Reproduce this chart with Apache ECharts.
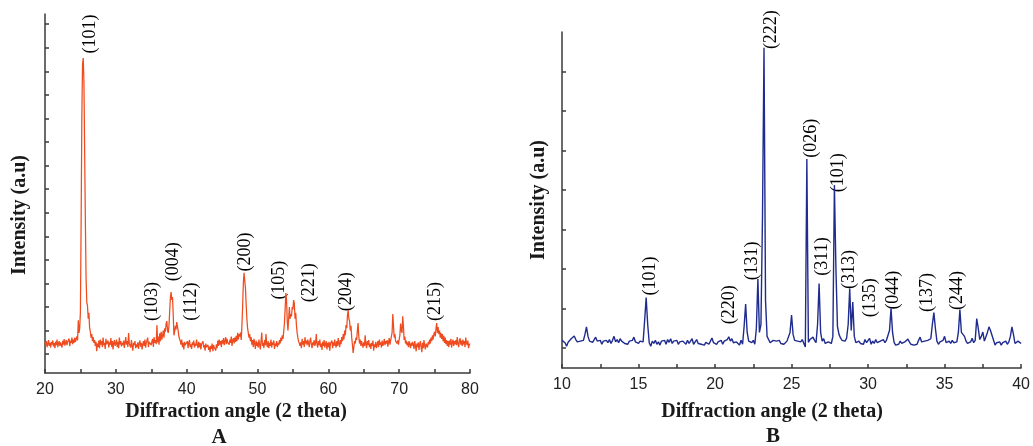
<!DOCTYPE html>
<html>
<head>
<meta charset="utf-8">
<script src="https://cdn.jsdelivr.net/npm/echarts@6/dist/echarts.min.js"></script>
<style>
  html, body { margin: 0; padding: 0; background: #fff; }
  #chart { width: 1033px; height: 446px; }
</style>
</head>
<body>
<div id="chart"></div>
<script>
// ---- Pattern A: anatase-type TiO2 scan, 20–80° at 0.1° steps ----
const angleStartA = 20;
const angleStepA = 0.1;
const intensityA = [
  50,38,55,30,44,60,35,48,28,52,
  40,58,33,47,25,53,38,62,30,45,
  55,35,50,42,28,57,40,64,36,48,
  60,38,52,45,66,34,58,48,70,42,
  62,48,70,52,60,75,58,144,90,110,
  180,560,1000,1230,1256,1150,850,560,320,220,
  205,150,175,110,95,70,85,55,72,48,
  60,35,52,12,45,30,58,25,62,40,
  55,30,70,38,48,22,65,42,35,58,
  28,50,40,68,32,55,20,48,60,35,
  45,62,30,52,25,70,42,55,33,48,
  38,58,26,50,72,40,55,30,90,45,
  52,28,60,35,15,48,38,55,25,42,
  30,50,22,45,58,32,48,20,40,55,
  35,62,28,48,40,70,30,52,44,60,
  38,55,65,30,72,48,60,42,123,50,
  75,40,88,55,95,62,80,100,70,110,
  95,130,140,100,90,120,180,240,263,230,
  242,170,80,95,120,105,136,128,100,75,
  80,55,40,62,30,48,20,52,38,45,
  35,55,25,48,60,30,42,22,50,38,
  58,28,45,35,62,40,25,52,30,48,
  20,42,35,55,28,38,15,45,30,25,
  40,18,32,8,35,22,45,12,38,28,
  30,15,42,25,58,35,62,40,55,30,
  60,45,68,38,55,72,42,65,50,58,
  40,62,48,75,35,58,68,45,70,52,
  78,55,90,62,85,75,92,60,120,200,
  300,345,340,280,210,150,110,90,70,85,
  55,72,40,60,30,65,45,22,58,35,
  50,28,62,40,20,55,92,35,48,25,
  60,38,85,42,30,55,25,48,35,62,
  28,50,40,58,22,45,35,55,30,48,
  38,60,45,70,55,80,65,95,130,190,
  259,230,140,100,150,200,150,170,160,200,
  190,229,215,150,175,120,90,70,55,60,
  35,50,25,65,40,55,30,72,45,58,
  38,62,48,30,55,70,42,25,50,38,
  60,35,48,85,40,28,55,38,62,30,
  45,18,52,35,60,28,42,55,20,48,
  30,52,15,45,38,58,25,50,35,62,
  40,28,55,35,68,45,30,60,42,72,
  55,85,62,100,80,123,110,165,187,150,
  140,100,120,70,40,5,30,55,45,70,
  60,100,132,75,45,62,35,55,40,28,
  50,35,80,42,25,55,38,60,30,45,
  22,48,35,58,15,42,30,52,25,40,
  55,30,62,40,50,28,58,35,45,65,
  38,55,45,60,32,52,68,40,58,75,
  90,170,120,70,85,55,62,45,58,40,
  62,80,130,100,90,161,120,60,75,45,
  58,38,50,30,55,42,25,48,35,52,
  40,22,55,35,12,45,30,50,18,42,
  55,30,8,48,25,60,35,20,45,38,
  28,52,40,62,45,70,55,80,62,85,
  95,75,110,132,90,115,85,100,70,90,
  65,85,55,78,48,70,42,60,35,55,
  30,58,40,65,28,50,62,35,55,42,
  60,38,72,45,30,55,68,40,58,35,
  62,42,55,30,70,48,38,58,25,40,
  45
];
const peakNamesA = ['(101)', '(103)', '(004)', '(112)', '(200)', '(105)', '(221)', '(204)', '(215)'];
const peakLabelAngleA = [26.36, 35.1, 38.15, 40.7, 48.3, 53.1, 57.35, 62.6, 75.15];
const peakLabelLevelA = [1358, 223, 392, 223, 433, 314, 303, 265, 223];
const xTickLabelsA = [20, 30, 40, 50, 60, 70, 80];
const yTicksA = [0, 100, 200, 300, 400, 500, 600, 700, 800, 900, 1000, 1100, 1200, 1300, 1400];

// ---- Pattern B: scan 10–40° at 0.1° steps ----
const angleStartB = 10;
const angleStepB = 0.1;
const intensityB = [
  20,18,14,5,15,20,24,28,31,22,
  16,12,18,15,20,35,54,30,18,22,
  15,20,28,18,14,20,10,18,15,20,
  14,22,12,20,30,16,22,14,24,18,
  22,12,16,10,18,14,20,28,16,20,
  12,18,22,16,70,128,60,14,5,18,
  12,20,10,16,8,18,14,20,10,22,
  15,24,12,18,14,20,10,16,12,18,
  14,10,20,12,18,24,10,16,22,12,
  16,10,14,8,15,12,10,18,26,14,
  12,10,16,12,20,10,18,14,22,29,
  18,24,14,10,16,12,8,20,10,55,
  112,40,18,22,14,20,10,50,175,40,
  60,330,760,120,30,22,14,18,20,15,
  18,14,20,12,16,10,14,18,20,40,
  84,35,20,24,18,20,16,22,20,3,
  479,15,22,18,28,20,14,60,164,40,
  18,24,12,8,16,20,12,30,413,200,
  55,35,26,20,24,18,26,60,151,45,
  117,30,14,10,18,12,16,10,22,14,
  12,25,10,18,12,22,14,10,18,16,
  22,14,20,18,45,101,40,15,8,3,
  10,18,12,8,16,20,23,16,10,14,
  8,12,10,20,28,16,12,18,14,20,
  16,24,60,90,50,18,10,16,12,20,
  30,14,10,18,12,20,14,10,16,40,
  98,40,38,30,18,12,8,16,25,14,
  20,75,50,22,30,41,18,14,40,54,
  45,50,20,8,14,10,16,8,14,12,
  18,10,16,30,54,35,12,8,18,14,
  12
];
const peakNamesB = ['(101)', '(220)', '(131)', '(222)', '(026)', '(311)', '(101)', '(313)', '(135)', '(044)', '(137)', '(244)'];
const peakLabelAngleB = [15.77, 20.94, 22.45, 23.68, 26.26, 27.03, 28.03, 28.77, 30.16, 31.65, 33.87, 35.84];
const peakLabelLevelB = [183, 110, 221, 806, 531, 232, 444, 199, 128, 147, 141, 146];
const xTickLabelsB = [10, 15, 20, 25, 30, 35, 40];
const yTicksB = [0, 100, 200, 300, 400, 500, 600, 700];

// ---- helpers ----
function scanPairs(start, step, values) {
  return values.map((v, i) => [Math.round((start + i * step) * 100) / 100, v]);
}
function labelItems(names, angles, levels) {
  return names.map((n, i) => ({ name: n, value: [angles[i], levels[i]] }));
}

const axisColor = '#3a3a3a';
const axisLineStyle = { color: axisColor, width: 1.5 };
const serif = '"Liberation Serif", "Times New Roman", serif';
const sans = '"Liberation Sans", Arial, sans-serif';

function xAxisDef(grid, min, max, step, labels) {
  return {
    type: 'value', gridIndex: grid, min: min, max: max, interval: step,
    axisLine: { onZero: false, lineStyle: axisLineStyle },
    axisTick: { inside: true, length: 4, lineStyle: axisLineStyle },
    axisLabel: { customValues: labels, color: '#222', fontFamily: sans, fontSize: 16, margin: 9 },
    splitLine: { show: false }
  };
}
function yAxisDef(grid, min, max, ticks) {
  return {
    type: 'value', gridIndex: grid, min: min, max: max,
    axisLine: { show: true, onZero: false, lineStyle: axisLineStyle },
    axisTick: { show: true, inside: true, length: 4, customValues: ticks, lineStyle: axisLineStyle },
    axisLabel: { show: false },
    splitLine: { show: false }
  };
}
function peakLabelSeries(idx, items) {
  return {
    type: 'scatter', xAxisIndex: idx, yAxisIndex: idx, data: items,
    symbolSize: 1, itemStyle: { color: 'rgba(0,0,0,0)' }, clip: false, silent: true,
    label: {
      show: true, position: 'inside', rotate: 90, formatter: p => p.name,
      fontFamily: serif, fontSize: 18, color: '#000', textBorderWidth: 0, opacity: 1
    }
  };
}

const chart = echarts.init(document.getElementById('chart'));
chart.setOption({
  animation: false,
  backgroundColor: '#ffffff',
  grid: [
    { left: 45, top: 14, width: 425, height: 359 },
    { left: 562, top: 32, width: 465, height: 336 }
  ],
  xAxis: [
    xAxisDef(0, 20, 80, 5, xTickLabelsA),
    xAxisDef(1, 10, 40, 2.5, xTickLabelsB)
  ],
  yAxis: [
    yAxisDef(0, -80, 1443, yTicksA),
    yAxisDef(1, -50, 800, yTicksB)
  ],
  series: [
    {
      type: 'line', xAxisIndex: 0, yAxisIndex: 0, showSymbol: false, silent: true,
      data: scanPairs(angleStartA, angleStepA, intensityA),
      lineStyle: { color: '#ef4b1e', width: 1.25 }
    },
    {
      type: 'line', xAxisIndex: 1, yAxisIndex: 1, showSymbol: false, silent: true,
      data: scanPairs(angleStartB, angleStepB, intensityB),
      lineStyle: { color: '#1f2b8e', width: 1.4 }
    },
    peakLabelSeries(0, labelItems(peakNamesA, peakLabelAngleA, peakLabelLevelA)),
    peakLabelSeries(1, labelItems(peakNamesB, peakLabelAngleB, peakLabelLevelB))
  ],
  graphic: [
    { type: 'text', x: 236, y: 412, style: { text: 'Diffraction angle (2 theta)', font: 'bold 20px ' + serif, fill: '#1a1a1a', textAlign: 'center', textVerticalAlign: 'middle' } },
    { type: 'text', x: 219, y: 438, style: { text: 'A', font: 'bold 21px ' + serif, fill: '#1a1a1a', textAlign: 'center', textVerticalAlign: 'middle' } },
    { type: 'text', x: 772, y: 412, style: { text: 'Diffraction angle (2 theta)', font: 'bold 20px ' + serif, fill: '#1a1a1a', textAlign: 'center', textVerticalAlign: 'middle' } },
    { type: 'text', x: 773, y: 437, style: { text: 'B', font: 'bold 21px ' + serif, fill: '#1a1a1a', textAlign: 'center', textVerticalAlign: 'middle' } },
    { type: 'text', x: 20, y: 215, rotation: Math.PI / 2, style: { text: 'Intensity (a.u)', font: 'bold 20px ' + serif, fill: '#1a1a1a', textAlign: 'center', textVerticalAlign: 'middle' } },
    { type: 'text', x: 539, y: 200, rotation: Math.PI / 2, style: { text: 'Intensity (a.u)', font: 'bold 20px ' + serif, fill: '#1a1a1a', textAlign: 'center', textVerticalAlign: 'middle' } }
  ]
});
</script>
</body>
</html>
